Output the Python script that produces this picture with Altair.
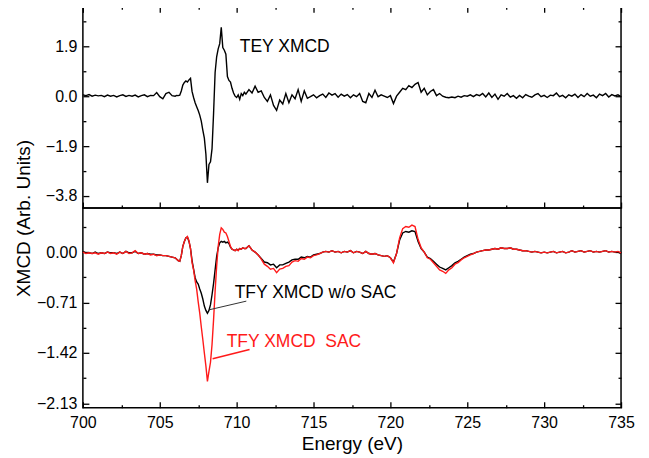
import altair as alt
import pandas as pd

FONT = "Liberation Sans"

# Energy grid: three segments (start eV, step eV); values below are read per segment
seg_starts = [700.0, 706.0, 710.6]
seg_steps = [0.2, 0.1, 0.2]

# ---- TEY XMCD (top panel) ----
tey_a = [0.05, 0.02, 0.06, 0.00, 0.04, 0.01, 0.03, -0.02, 0.04, 0.00,
         0.03, -0.03, 0.02, 0.05, -0.01, 0.03, 0.00, 0.04, -0.03, 0.02,
         0.05, -0.02, 0.03, 0.02, 0.14, -0.02, -0.10, 0.10, 0.15, 0.02]
tey_b = [0.00, 0.03, 0.02, 0.04, 0.20, 0.42, 0.52, 0.58, 0.54, 0.62,
         0.68, 0.18, -0.05, -0.25, -0.40, -0.55, -0.72, -0.95, -1.29, -1.60,
         -2.20, -3.30, -2.60, -2.50, -2.00, -0.65, 0.90, 1.50, 1.80, 2.00,
         2.62, 1.85, 1.75, 1.60, 0.75, 0.60, 0.54, 0.30, 0.12, 0.00,
         -0.05, 0.05, -0.12, 0.10, 0.02, 0.15]
tey_c = [0.08, 0.25, 0.12, 0.38, 0.15, 0.20, -0.05, -0.20, 0.05, -0.35,
         -0.54, -0.15, -0.30, 0.10, -0.25, 0.05, -0.10, 0.25, -0.20, 0.20,
         -0.08, -0.02, 0.05, -0.06, 0.02, 0.08, -0.05, 0.12, 0.04, 0.10,
         -0.04, 0.08, 0.00, 0.06, -0.06, 0.05, -0.02, 0.10, -0.20, -0.25,
         0.10, -0.05, 0.23, -0.02, 0.05, 0.00, -0.05, 0.02, -0.28, 0.00,
         0.15, 0.30, 0.25, 0.40, 0.33, 0.45, 0.52, 0.15, 0.30, 0.05,
         0.18, 0.25, 0.02, 0.10, 0.00, -0.04, -0.06, -0.03, -0.06, 0.00,
         -0.04, 0.02, 0.00, 0.05, -0.02, 0.06, 0.02, 0.10, -0.03, 0.12,
         -0.05, 0.08, -0.12, 0.05, 0.00, 0.10, -0.04, 0.02, -0.08, 0.03,
         -0.06, 0.06, 0.00, -0.04, 0.05, 0.10, -0.02, 0.03, -0.05, 0.04,
         0.02, 0.12, -0.02, 0.03, -0.06, 0.05, 0.00, 0.08, -0.05, 0.06,
         -0.02, 0.10, 0.00, 0.04, -0.06, 0.08, 0.02, 0.10, -0.03, 0.06,
         0.01, 0.05, -0.02]

# ---- TFY XMCD w/o SAC (black, bottom panel) ----
nosac_a = [0.01, -0.01, -0.01, -0.02, 0.00, -0.02, -0.01, -0.02, 0.00, -0.01,
           -0.01, -0.02, 0.00, -0.02, 0.01, -0.01, -0.01, 0.01, -0.02, -0.01,
           -0.03, -0.02, -0.03, -0.03, -0.04, -0.04, -0.05, -0.05, -0.06, -0.07]
nosac_b = [-0.08, -0.10, -0.12, -0.13, -0.05, 0.08, 0.15, 0.20, 0.21, 0.15,
           0.05, -0.12, -0.24, -0.36, -0.42, -0.45, -0.52, -0.58, -0.66, -0.76,
           -0.82, -0.86, -0.82, -0.74, -0.60, -0.44, -0.25, -0.06, 0.06, 0.13,
           0.15, 0.14, 0.15, 0.13, 0.14, 0.12, 0.07, 0.04, 0.03, 0.02,
           0.04, 0.03, 0.05, 0.04, 0.06, 0.05]
nosac_c = [0.05, 0.09, 0.03, 0.00, -0.04, -0.09, -0.14, -0.15, -0.18, -0.17,
           -0.22, -0.18, -0.18, -0.16, -0.14, -0.11, -0.10, -0.10, -0.07, -0.08,
           -0.06, -0.07, -0.04, -0.03, -0.02, 0.00, 0.01, 0.00, 0.02, 0.00,
           0.01, -0.01, 0.01, 0.00, 0.02, -0.01, 0.01, 0.00, -0.02, 0.01,
           -0.02, -0.03, -0.02, -0.04, -0.05, -0.06, -0.05, -0.08, -0.14, -0.02,
           0.17, 0.27, 0.29, 0.28, 0.30, 0.29, 0.15, 0.05, 0.00, -0.07,
           -0.09, -0.13, -0.17, -0.21, -0.23, -0.25, -0.22, -0.19, -0.15, -0.13,
           -0.10, -0.07, -0.05, -0.03, -0.02, 0.00, 0.01, 0.02, 0.03, 0.03,
           0.04, 0.05, 0.04, 0.06, 0.05, 0.05, 0.06, 0.04, 0.04, 0.03,
           0.02, 0.02, 0.01, 0.00, 0.01, 0.00, -0.01, 0.00, -0.01, 0.00,
           0.01, -0.01, 0.00, 0.01, -0.01, 0.00, 0.02, 0.00, 0.01, 0.02,
           0.00, 0.01, 0.02, 0.00, 0.01, 0.00, 0.01, 0.02, 0.00, 0.01,
           0.00, 0.00, -0.02]

# ---- TFY XMCD SAC (red, bottom panel) ----
sac_a = [0.00, -0.02, -0.01, -0.02, -0.01, -0.03, -0.01, -0.02, 0.00, -0.02,
         -0.01, -0.03, 0.00, -0.02, 0.01, -0.02, -0.01, 0.02, -0.02, -0.01,
         -0.03, -0.02, -0.04, -0.03, -0.05, -0.04, -0.05, -0.05, -0.06, -0.07]
sac_b = [-0.08, -0.10, -0.12, -0.13, -0.05, 0.08, 0.15, 0.20, 0.22, 0.16,
         0.05, -0.15, -0.25, -0.40, -0.52, -0.70, -0.86, -1.05, -1.23, -1.42,
         -1.60, -1.82, -1.68, -1.55, -1.30, -0.95, -0.55, -0.20, 0.08, 0.25,
         0.34, 0.32, 0.28, 0.27, 0.22, 0.15, 0.08, 0.04, 0.03, 0.02,
         0.04, 0.02, 0.05, 0.04, 0.06, 0.05]
sac_c = [0.05, 0.09, 0.03, 0.00, -0.04, -0.10, -0.17, -0.20, -0.24, -0.23,
         -0.29, -0.24, -0.23, -0.20, -0.19, -0.14, -0.12, -0.13, -0.09, -0.10,
         -0.07, -0.08, -0.05, -0.04, -0.02, 0.00, 0.01, 0.00, 0.02, 0.00,
         0.01, -0.01, 0.01, 0.00, 0.02, -0.01, 0.01, 0.00, -0.02, 0.01,
         -0.02, -0.03, -0.02, -0.04, -0.05, -0.06, -0.05, -0.08, -0.15, -0.02,
         0.20, 0.33, 0.36, 0.35, 0.38, 0.36, 0.18, 0.06, 0.00, -0.08,
         -0.10, -0.15, -0.20, -0.25, -0.27, -0.30, -0.25, -0.22, -0.17, -0.15,
         -0.11, -0.08, -0.06, -0.04, -0.02, 0.00, 0.01, 0.02, 0.03, 0.03,
         0.04, 0.05, 0.04, 0.06, 0.05, 0.05, 0.06, 0.04, 0.04, 0.03,
         0.02, 0.02, 0.01, 0.00, 0.01, 0.00, -0.01, 0.00, -0.01, 0.00,
         0.01, -0.01, 0.00, 0.01, -0.01, 0.00, 0.02, 0.00, 0.01, 0.02,
         0.00, 0.01, 0.02, 0.00, 0.01, 0.00, 0.01, 0.02, 0.00, 0.01,
         0.00, 0.01, -0.01]

# ---- axes ----
x_major = [700, 705, 710, 715, 720, 725, 730, 735]
x_minor = [702.5, 707.5, 712.5, 717.5, 722.5, 727.5, 732.5]
top_major = [-3.8, -1.9, 0.0, 1.9]
top_minor = [-2.85, -0.95, 0.95, 2.85]
bot_major = [-2.13, -1.42, -0.71, 0.0]
bot_minor = [-1.775, -1.065, -0.355, 0.355]

# ---- annotations ----
tey_label = {"E": [710.2], "v": [1.86], "label": ["TEY XMCD"]}
nosac_label = {"E": [709.87], "v": [-0.57], "label": ["TFY XMCD w/o SAC"]}
sac_label = {"E": [709.35], "v": [-1.26], "label": ["TFY XMCD\u00a0 SAC"]}
nosac_leader = {"E": [708.25], "v": [-0.81], "E2": [710.63], "v2": [-0.69]}
sac_leader = {"E": [708.44], "v": [-1.50], "E2": [710.84], "v2": [-1.37]}


def series(segments):
    E, V = [], []
    for start, step, vals in zip(seg_starts, seg_steps, segments):
        for i, v in enumerate(vals):
            E.append(round(start + step * i, 2))
            V.append(v)
    return pd.DataFrame({"E": E, "v": V})


df_tey = series([tey_a, tey_b, tey_c])
df_nosac = series([nosac_a, nosac_b, nosac_c])
df_sac = series([sac_a, sac_b, sac_c])

W, H1, H2 = 539, 202, 200
x_scale = alt.Scale(domain=[700, 735], nice=False, zero=False)
y1_scale = alt.Scale(domain=[-4.26, 3.42], nice=False, zero=False)
y2_scale = alt.Scale(domain=[-2.19, 0.62], nice=False, zero=False)

MAJ = {"expr": "-6"}
MIN = {"expr": "-3"}


def ax(orient, values, size, **kw):
    d = dict(orient=orient, values=values, tickSize=size, labels=False,
             domain=False, grid=False, tickColor="black", tickWidth=1.3,
             title=None)
    d.update(kw)
    return alt.Axis(**d)


def frame_layers(df, yscale, ymaj, ymin, top_ticks):
    base = alt.Chart(df).mark_line(strokeOpacity=0)
    return [
        base.encode(x=alt.X("E:Q", scale=x_scale, axis=ax("bottom", x_minor, MIN)),
                    y=alt.Y("v:Q", scale=yscale, axis=ax("left", ymin, MIN))),
        base.encode(x=alt.X("E:Q", scale=x_scale,
                            axis=ax("top", x_major, MAJ) if top_ticks else None),
                    y=alt.Y("v:Q", scale=yscale, axis=ax("right", ymaj, MAJ))),
        base.encode(x=alt.X("E:Q", scale=x_scale,
                            axis=ax("top", x_minor, MIN) if top_ticks else None),
                    y=alt.Y("v:Q", scale=yscale, axis=ax("right", ymin, MIN))),
    ]


def text_layer(d, yscale, color):
    return alt.Chart(pd.DataFrame(d)).mark_text(
        align="left", baseline="middle", font=FONT, fontSize=17.5, color=color
    ).encode(x=alt.X("E:Q", scale=x_scale, axis=None),
             y=alt.Y("v:Q", scale=yscale, axis=None),
             text="label:N")


def leader_layer(d, yscale, color, width):
    return alt.Chart(pd.DataFrame(d)).mark_rule(color=color, strokeWidth=width).encode(
        x=alt.X("E:Q", scale=x_scale, axis=None),
        y=alt.Y("v:Q", scale=yscale, axis=None),
        x2="E2:Q", y2="v2:Q")


# ---- top panel ----
tey_line = alt.Chart(df_tey).mark_line(color="black", strokeWidth=1.4).encode(
    x=alt.X("E:Q", scale=x_scale, axis=ax("bottom", x_major, MAJ)),
    y=alt.Y("v:Q", scale=y1_scale,
            axis=ax("left", top_major, MAJ, labels=True, format=".1f",
                    labelPadding=12, title="XMCD (Arb. Units)",
                    titleX=-59, titleY=212, titleBaseline="middle",
                    titleAlign="center")),
)
top = alt.layer(
    tey_line,
    *frame_layers(df_tey, y1_scale, top_major, top_minor, True),
    text_layer(tey_label, y1_scale, "black"),
).resolve_axis(x="independent", y="independent").properties(width=W, height=H1)

# ---- bottom panel ----
nosac_line = alt.Chart(df_nosac).mark_line(color="black", strokeWidth=1.4).encode(
    x=alt.X("E:Q", scale=x_scale,
            axis=ax("bottom", x_major, MAJ, labels=True, format="d",
                    labelFlush=False, labelPadding=13,
                    title="Energy (eV)", titlePadding=4)),
    y=alt.Y("v:Q", scale=y2_scale,
            axis=ax("left", bot_major, MAJ, labels=True, format=".2f",
                    labelPadding=12)),
)
sac_line = alt.Chart(df_sac).mark_line(color="#ff1a1a", strokeWidth=1.4).encode(
    x=alt.X("E:Q", scale=x_scale, axis=None),
    y=alt.Y("v:Q", scale=y2_scale, axis=None),
)
bottom = alt.layer(
    nosac_line,
    *frame_layers(df_nosac, y2_scale, bot_major, bot_minor, False),
    sac_line,
    leader_layer(nosac_leader, y2_scale, "#333333", 1),
    leader_layer(sac_leader, y2_scale, "#ff1a1a", 1.6),
    text_layer(nosac_label, y2_scale, "black"),
    text_layer(sac_label, y2_scale, "#ff1a1a"),
).resolve_axis(x="independent", y="independent").properties(width=W, height=H2)

chart = alt.vconcat(top, bottom, spacing=0, bounds="flush").properties(
    padding={"left": 6, "top": -4, "right": 5, "bottom": 2},
    background="white",
).configure_view(stroke="black", strokeWidth=1.5).configure_axis(
    labelFont=FONT, labelFontSize=16, labelColor="black",
    titleFont=FONT, titleFontSize=19, titleColor="black", titleFontWeight="normal",
)

chart.save("out.html", embed_options={"renderer": "svg", "actions": False})
